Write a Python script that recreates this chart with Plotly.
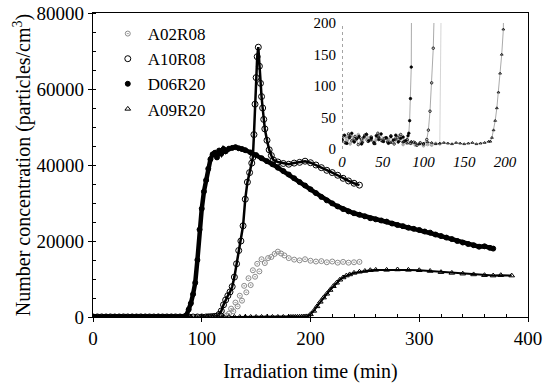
import plotly.graph_objects as go

# ---------------- data ----------------
d06_t = [0, 3, 6, 9, 12, 15, 18, 21, 24, 27, 30, 33, 36, 39, 42, 45, 48, 51, 54, 57, 60, 63, 66, 69, 72, 75, 78, 81,
         82, 83, 84, 85, 86, 88, 90, 92, 94, 96, 98, 100, 102, 104, 106, 108, 110, 112, 114, 116, 118, 120, 122,
         125, 128, 131, 134, 137, 140,
         145, 150, 155, 160, 165, 170, 175, 180, 185, 190, 195, 200, 205, 210, 215, 220, 225, 230, 235, 240,
         245, 250, 255, 260, 265, 270, 275, 280, 285, 290, 295, 300, 305, 310, 315, 320, 325, 330, 335, 340,
         345, 350, 355, 360, 365, 368]
d06_v = [14, 22, 9, 18, 25, 11, 16, 20, 8, 19, 23, 13, 17, 10, 21, 15, 24, 12, 18, 9, 20, 14, 22, 11, 17, 19, 13, 21,
         25, 45, 80, 130, 500, 2000, 3600, 6000, 9000, 15000, 23000, 28500, 33000, 36000, 39000, 41500, 42800,
         43200, 42000, 43800, 43000, 44200, 43600,
         44300, 44500, 44700, 44400, 44200, 43900,
         43300, 42600, 41800, 41000, 40200, 39300, 38400, 37500, 36500, 35500, 34600, 33600, 32600, 31600, 30700,
         29900, 29100, 28400, 27800, 27300,
         26900, 26500, 26000, 25700, 25400, 25100, 24600, 24200, 23900, 23500, 23200, 22900, 22500, 22200, 21700,
         21300, 20900, 20500, 20000, 19600,
         19200, 18900, 18500, 18600, 18200, 18000]

a10_t = [0, 4, 8, 12, 16, 20, 24, 28, 32, 36, 40, 44, 48, 52, 56, 60, 64, 68, 72, 76, 80, 84, 88, 92, 96, 100,
         104, 106, 108, 110, 112, 114, 116, 118, 120, 122, 124, 126, 128, 130, 132, 134, 136, 138, 140, 142, 144,
         146, 147, 148, 149, 150, 151, 152, 153, 154, 155, 156, 157, 158, 160, 162, 164, 166,
         170, 175, 180, 185, 190, 195, 200, 205, 210, 215, 220, 225, 230, 235, 240, 245]
a10_v = [18, 10, 24, 13, 20, 7, 16, 22, 12, 19, 9, 25, 14, 17, 11, 21, 8, 18, 23, 12, 15, 9, 11, 6, 10, 8,
         15, 30, 60, 105, 160, 260, 700, 1600, 3200, 4500, 5600, 6600, 8000, 10500, 14000, 17500, 20000, 24000,
         31000, 35500, 38000,
         40500, 42000, 48000, 56000, 63000, 68500, 71000, 66000, 61500, 58000, 55000, 52000, 49500, 46500, 44000,
         42500, 41300,
         40800, 40400, 40200, 40500, 40700, 41000, 40600, 40000, 39300, 38600, 38000, 37300, 36500, 35800, 35200,
         34700]

a02_t = [0, 5, 10, 15, 20, 25, 30, 35, 40, 45, 50, 55, 60, 65, 70, 75, 80, 85, 90, 95, 100, 105, 110, 115, 120,
         123, 125, 127, 129, 131, 133, 135, 137, 139, 141, 143, 145, 147, 149, 151, 153, 155, 158, 161, 164, 167,
         170, 173, 176, 180, 185, 190, 195, 200, 205, 210, 215, 220, 225, 230, 235, 240, 245]
a02_v = [12, 20, 8, 17, 23, 10, 15, 19, 9, 22, 13, 18, 11, 16, 21, 7, 14, 9, 6, 8, 5, 7, 6, 9, 8,
         400, 900, 2200, 1500, 3800, 2800, 5600, 4300, 8200, 6500, 10200, 8400, 12300, 10600, 14000, 12000, 15200,
         14200, 15500, 15800, 16600,
         17200, 16700, 16200, 15500, 15100, 14900, 15200, 14800, 14600, 14700, 14400, 14600, 14300, 14500, 14300,
         14400, 14500]

a09_t = [0, 5, 10, 15, 20, 25, 30, 35, 40, 45, 50, 55, 60, 65, 70, 75, 80, 85, 90, 95, 100, 105, 110, 115, 120,
         125, 130, 135, 140, 145, 150, 155, 160, 165, 170, 175, 180,
         182, 184, 186, 188, 190, 192, 194, 196, 198, 200, 203, 206, 209, 212, 215, 218, 221, 224, 227, 230, 233,
         236, 240, 245, 250, 255, 260, 270, 280, 290, 300, 310, 320, 330, 340, 350, 360, 368, 375, 385]
a09_v = [16, 9, 21, 13, 18, 11, 24, 14, 8, 19, 12, 17, 10, 15, 13, 11, 9, 12, 10, 8, 9, 11, 10, 8, 9,
         10, 9, 8, 10, 9, 8, 9, 10, 8, 9, 10, 12,
         12, 18, 30, 45, 65, 90, 120, 150, 190, 700, 1600, 2800, 4000, 5100, 6100, 7100, 8100, 9000, 9800, 10400,
         10900, 11200, 11600, 11900, 12100, 12300, 12400, 12400, 12500, 12400, 12300, 12100, 11800, 11600, 11400,
         11200, 11000, 10900, 11000, 10900]

x_ticks = [0, 100, 200, 300, 400]
y_ticks = [0, 20000, 40000, 60000, 80000]
inset_ticks = [0, 50, 100, 150, 200]

FONT = "Liberation Serif"

series = [
    # name, t, v, symbol, size, color, main line width
    ("A02R08", a02_t, a02_v, "circle-open-dot", 5, "#8a8a8a", 0),
    ("A10R08", a10_t, a10_v, "circle-open", 6, "black", 2.5),
    ("D06R20", d06_t, d06_v, "circle", 5, "black", 4.5),
    ("A09R20", a09_t, a09_v, "triangle-up-open", 5, "black", 2),
]

fig = go.Figure()

# main plot: bands (lines) under markers
for name, t, v, sym, sz, col, lw in series:
    if lw > 0:
        fig.add_trace(go.Scatter(x=t, y=v, mode="lines", line=dict(color=col, width=lw),
                                 showlegend=False, hoverinfo="skip"))
for name, t, v, sym, sz, col, lw in series:
    fig.add_trace(go.Scatter(x=t, y=v, mode="markers", name=name,
                             marker=dict(symbol=sym, size=sz, color=col, line=dict(color=col, width=1))))

# inset: same series, zoomed
for name, t, v, sym, sz, col, lw in series:
    fig.add_trace(go.Scatter(x=t, y=v, mode="lines+markers", xaxis="x2", yaxis="y2", showlegend=False,
                             line=dict(color="#555" if col == "black" else "#aaa", width=0.5),
                             marker=dict(symbol=sym, size=2.5, color=col, line=dict(color=col, width=0.8))))

fig.add_shape(type="line", xref="x2", yref="y2", x0=0, x1=0, y0=0, y1=200,
              line=dict(color="#444", width=1, dash="dot"))

fig.update_layout(
    template="none",
    width=550, height=384,
    margin=dict(l=93, r=22, t=13, b=67),
    paper_bgcolor="white", plot_bgcolor="white",
    font=dict(family=FONT, size=19, color="black"),
    showlegend=True,
    legend=dict(x=0.034, y=0.99, xanchor="left", yanchor="top", bgcolor="rgba(0,0,0,0)",
                font=dict(family=FONT, size=17), tracegroupgap=0),
    xaxis=dict(range=[0, 400], tickvals=x_ticks, showgrid=False, zeroline=False, automargin=False,
               showline=True, linecolor="black", linewidth=1.3, mirror=True,
               ticks="outside", ticklen=4, tickcolor="black",
               minor=dict(dtick=20, ticks="inside", ticklen=3, tickcolor="black", showgrid=False),
               tickfont=dict(size=19),
               title=dict(text="Irradiation time (min)", font=dict(size=20), standoff=16)),
    yaxis=dict(range=[0, 80000], tickvals=y_ticks, tickformat="d", showgrid=False, zeroline=False,
               automargin=False,
               showline=True, linecolor="black", linewidth=1.3, mirror=True,
               ticks="outside", ticklen=4, tickcolor="black",
               minor=dict(dtick=5000, ticks="inside", ticklen=3, tickcolor="black", showgrid=False),
               tickfont=dict(size=19),
               title=dict(text="Number concentration (particles/cm<sup>3</sup>)", font=dict(size=20), standoff=0)),
    xaxis2=dict(domain=[0.5724, 0.9471], anchor="y2", range=[0, 200], tickvals=inset_ticks,
                showgrid=False, zeroline=False, showline=False, ticks="", automargin=False,
                ticklabelstandoff=2,
                tickfont=dict(size=15, style="italic")),
    yaxis2=dict(domain=[0.5526, 0.9671], anchor="x2", range=[0, 200], tickvals=inset_ticks,
                showgrid=False, zeroline=False, showline=False, ticks="", automargin=False,
                ticklabelstandoff=5,
                tickfont=dict(size=15)),
)

fig.write_html("out.html")
